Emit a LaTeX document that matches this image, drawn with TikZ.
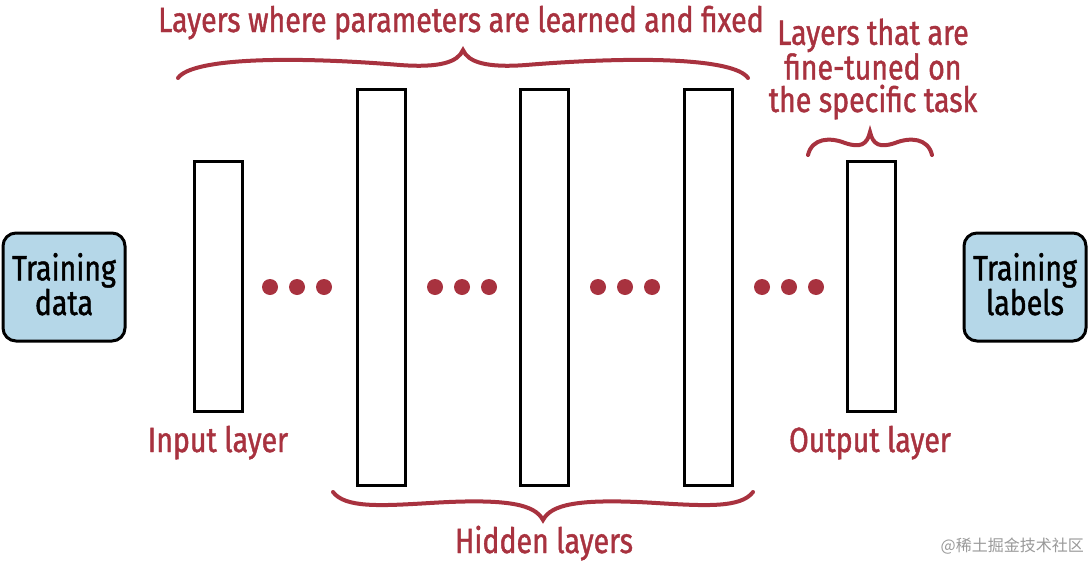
\documentclass[tikz,border=0pt]{standalone}
\usepackage{fontspec}
\setmainfont{Fira Sans}[FakeStretch=0.815,FakeBold=1.2]
\newfontfamily\cjk{Noto Sans CJK SC}
\definecolor{braceRed}{HTML}{A8323F}
\definecolor{boxBlue}{HTML}{B5D7E8}
\begin{document}
\begin{tikzpicture}[x=1pt,y=-1pt,
  layerbox/.style={draw=black,line width=3pt,fill=white},
  endbox/.style={draw=black,line width=3pt,fill=boxBlue,rounded corners=13pt},
  dotmark/.style={circle,fill=braceRed,inner sep=0pt,minimum size=16pt},
  bracecurve/.style={draw=braceRed,line width=4pt,line cap=round},
  redlabel/.style={text=braceRed,font=\fontsize{35}{32.5}\selectfont,inner sep=0pt,align=center},
  boxlabel/.style={text=black,font=\fontsize{35}{33}\selectfont,inner sep=0pt,align=center}]
\useasboundingbox (0,0) rectangle (1089,562);
% end boxes
\draw[endbox] (3,233) rectangle (125,341);
\node[boxlabel,anchor=base] (tdata) at (64,315) {Training\\data};
\draw[endbox] (964,233) rectangle (1086,341);
\node[boxlabel,anchor=base] (tlabels) at (1025,315) {Training\\labels};
% layers
\draw[layerbox] (194,161) rectangle (242,411);
\draw[layerbox] (357,89) rectangle (405,485);
\draw[layerbox] (520,89) rectangle (568,485);
\draw[layerbox] (684,89) rectangle (732,485);
\draw[layerbox] (847,161) rectangle (895,411);
% dots
\foreach \x/\n in {270/a1,297/a2,324/a3,435/b1,462/b2,489/b3,598/c1,625/c2,652/c3,762/d1,789/d2,816/d3}
  \node[dotmark] (dot\n) at (\x,287) {};
% top brace
\draw[bracecurve] (178,78) .. controls (192,58) and (290,56) .. (400,65)
  .. controls (440,68) and (458,62) .. (463,50)
  .. controls (468,62) and (486,68) .. (526,65)
  .. controls (636,56) and (734,58) .. (748,78);
% bottom brace
\draw[bracecurve] (333,492) .. controls (345,508) and (380,506) .. (430,503)
  .. controls (510,498) and (535,505) .. (543,520)
  .. controls (551,505) and (576,498) .. (656,503)
  .. controls (706,506) and (741,508) .. (753,492);
% small brace
\draw[bracecurve] (808,155) .. controls (812,138) and (830,137) .. (845,143)
  .. controls (860,148) and (867,145) .. (870,132)
  .. controls (873,145) and (880,148) .. (895,143)
  .. controls (910,137) and (928,138) .. (932,155);
% labels
\node[redlabel,anchor=base] (ttop) at (461,32) {Layers where parameters are learned and fixed};
\node[redlabel,anchor=base] (tright) at (873,112) {Layers that are\\fine-tuned on\\the specific task};
\node[redlabel,anchor=base] (tin) at (218,452) {Input layer};
\node[redlabel,anchor=base] (tout) at (870,452) {Output layer};
\node[redlabel,anchor=base] (thid) at (544,553) {Hidden layers};
\node[text=black!40,font=\cjk\fontsize{16}{16}\selectfont,inner sep=0pt,anchor=base east] (wm) at (1084,551) {@稀土掘金技术社区};
\end{tikzpicture}
\end{document}
